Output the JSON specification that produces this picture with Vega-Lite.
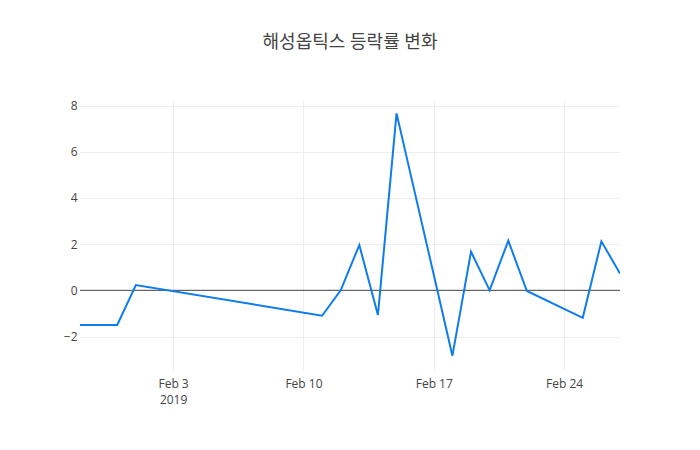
{
  "$schema": "https://vega.github.io/schema/vega-lite/v6.json",
  "width": 540,
  "height": 270,
  "autosize": {"type": "none"},
  "padding": {"left": 80, "top": 100, "right": 80, "bottom": 80},
  "background": "white",
  "config": {
    "view": {"stroke": null},
    "font": "Open Sans",
    "axis": {
      "labelFont": "Open Sans",
      "labelFontSize": 12,
      "labelColor": "#444",
      "gridColor": "#eeeeee",
      "gridWidth": 1,
      "domain": false,
      "ticks": false,
      "title": null
    }
  },
  "title": {
    "text": "해성옵틱스 등락률 변화",
    "font": "Open Sans, Noto Sans CJK KR",
    "fontSize": 18,
    "fontWeight": "normal",
    "color": "#444",
    "anchor": "middle",
    "offset": 48
  },
  "data": {
    "values": [
      {"date": "2019-01-29T00:00:00", "rate": -1.5},
      {"date": "2019-01-30T00:00:00", "rate": -1.5},
      {"date": "2019-01-31T00:00:00", "rate": -1.5},
      {"date": "2019-02-01T00:00:00", "rate": 0.23},
      {"date": "2019-02-11T00:00:00", "rate": -1.1},
      {"date": "2019-02-12T00:00:00", "rate": 0.0},
      {"date": "2019-02-13T00:00:00", "rate": 1.96},
      {"date": "2019-02-14T00:00:00", "rate": -1.07},
      {"date": "2019-02-15T00:00:00", "rate": 7.66},
      {"date": "2019-02-18T00:00:00", "rate": -2.83},
      {"date": "2019-02-19T00:00:00", "rate": 1.67},
      {"date": "2019-02-20T00:00:00", "rate": 0.0},
      {"date": "2019-02-21T00:00:00", "rate": 2.15},
      {"date": "2019-02-22T00:00:00", "rate": -0.03},
      {"date": "2019-02-25T00:00:00", "rate": -1.19},
      {"date": "2019-02-26T00:00:00", "rate": 2.12},
      {"date": "2019-02-27T00:00:00", "rate": 0.73}
    ]
  },
  "layer": [
    {
      "mark": {"type": "rule", "color": "#444", "strokeWidth": 1},
      "data": {"values": [{"zero": 0}]},
      "encoding": {
        "y": {"field": "zero", "type": "quantitative"}
      }
    },
    {
      "mark": {"type": "line", "color": "#0f7ced", "strokeWidth": 2, "clip": true},
      "encoding": {
        "x": {
          "field": "date",
          "type": "temporal",
          "scale": {
            "domain": [
              {"year": 2019, "month": 1, "date": 29},
              {"year": 2019, "month": 2, "date": 27}
            ]
          },
          "axis": {
            "values": [
              {"year": 2019, "month": 2, "date": 3},
              {"year": 2019, "month": 2, "date": 10},
              {"year": 2019, "month": 2, "date": 17},
              {"year": 2019, "month": 2, "date": 24}
            ],
            "labelExpr": "date(datum.value) == 3 ? [timeFormat(datum.value, '%b %-d'), '2019'] : timeFormat(datum.value, '%b %-d')",
            "labelPadding": 8,
            "labelLineHeight": 16
          }
        },
        "y": {
          "field": "rate",
          "type": "quantitative",
          "scale": {"domain": [-3.45, 8.24], "nice": false, "zero": false},
          "axis": {"values": [-2, 0, 2, 4, 6, 8], "labelPadding": 3, "labelExpr": "replace(datum.label, '-', '−')"}
        }
      }
    }
  ]
}
